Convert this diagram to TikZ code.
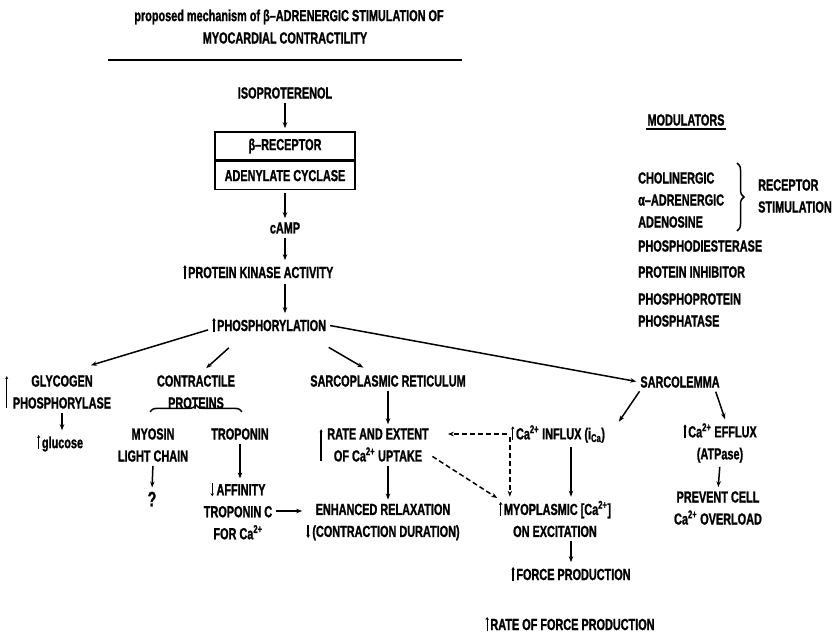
\documentclass[tikz,border=0pt]{standalone}
\usepackage{fontspec}
\setmainfont{Liberation Sans}[FakeStretch=0.68, FakeBold=1.2]
\usetikzlibrary{arrows.meta,decorations.pathreplacing}
\newcommand{\ua}{\tikz[baseline=0pt,x=1pt,y=1pt]\draw[line width=1.3pt,-{Stealth[length=3pt,width=3.5pt]}] (0,-1) -- (0,13);\hspace{1.5pt}}
\newcommand{\da}{\tikz[baseline=0pt,x=1pt,y=1pt]\draw[line width=1.3pt,-{Stealth[length=3pt,width=3.5pt]}] (0,12) -- (0,-1);\hspace{2.5pt}}
\begin{document}
\begin{tikzpicture}[x=1pt,y=-1pt,
  every node/.style={font=\fontsize{16}{22}\selectfont\bfseries, inner sep=1pt, align=center},
  arr/.style={-{Stealth[length=6pt,width=4.5pt]}, line width=1.5pt, shorten <=3pt, shorten >=3pt},
  dsh/.style={arr, dash pattern=on 5pt off 3pt},
  bar/.style={-{Stealth[length=3pt,width=3pt]}, line width=1.3pt},
  boxpart/.style={draw, line width=1.6pt, minimum width=140pt, minimum height=28pt},
  brc/.style={decorate, decoration={brace, amplitude=7pt}, line width=1.5pt},
  lft/.style={anchor=west, align=left}]
\useasboundingbox (0,0) rectangle (838,635);

% title
\node (title1) at (289,17) {proposed mechanism of β–ADRENERGIC STIMULATION OF};
\node (title2) at (285,38) {MYOCARDIAL CONTRACTILITY};
\draw[line width=1.6pt] (108,60) -- (462,60);

% main chain
\node (iso) at (285,93) {ISOPROTERENOL};
\node[boxpart] (rec) at (285,146) {β–RECEPTOR};
\node[boxpart, anchor=north] (ade) at (rec.south) {ADENYLATE CYCLASE};
\node (camp) at (285,228) {cAMP};
\node[anchor=west] (pka) at (182,272) {\ua PROTEIN KINASE ACTIVITY};
\node[anchor=west] (phos) at (211,325) {\ua PHOSPHORYLATION};

% left branches
\node (glyc) at (62,392) {GLYCOGEN\\PHOSPHORYLASE};
\node (gluc) at (60,443) {\ua glucose};
\node (contr) at (196,392) {CONTRACTILE\\PROTEINS};
\node (myo) at (153,445) {MYOSIN\\LIGHT CHAIN};
\node[font=\fontsize{21}{22}\selectfont\bfseries] (q) at (152,499) {?};
\node (trop) at (240,434) {TROPONIN};
\node (aff) at (238,511) {\da AFFINITY\\TROPONIN C\\FOR Ca\textsuperscript{2+}};

% sarcoplasmic reticulum
\node (sr) at (388,381) {SARCOPLASMIC RETICULUM};
\node (rate) at (378,445) {RATE AND EXTENT\\OF Ca\textsuperscript{2+} UPTAKE};
\node (enh) at (383,522) {ENHANCED RELAXATION\\\da(CONTRACTION DURATION)};

% sarcolemma
\node (sl) at (680,382) {SARCOLEMMA};
\node (influx) at (558,434) {\ua Ca\textsuperscript{2+} INFLUX (i\textsubscript{Ca})};
\node (myop) at (555,519) {\ua MYOPLASMIC [Ca\textsuperscript{2+}]\\ON EXCITATION};
\node (force) at (571,574) {\ua FORCE PRODUCTION};
\node (rateforce) at (570,624) {\ua RATE OF FORCE PRODUCTION};
\node (efflux) at (720,443) {\ua Ca\textsuperscript{2+} EFFLUX\\(ATPase)};
\node (prev) at (718,508) {PREVENT CELL\\Ca\textsuperscript{2+} OVERLOAD};

% modulators
\node (mod) at (686,120) {MODULATORS};
\draw[line width=1.5pt] ([yshift=-2pt]mod.south west) -- ([yshift=-2pt]mod.south east);
\node[lft] (chol) at (637,178) {CHOLINERGIC};
\node[lft] (alpha) at (637,200) {α–ADRENERGIC};
\node[lft] (aden) at (637,222) {ADENOSINE};
\node[lft] (recs) at (757,196) {RECEPTOR\\STIMULATION};
\node[lft] (pde) at (637,246) {PHOSPHODIESTERASE};
\node[lft] (pinh) at (637,272) {PROTEIN INHIBITOR};
\node[lft] (ppp) at (637,310) {PHOSPHOPROTEIN\\PHOSPHATASE};
\draw[brc] (737,163) -- (737,231);

% connectors main
\draw[arr] (iso) -- (rec);
\draw[arr] (ade) -- (camp);
\draw[arr] (camp.south) -- (camp.south |- pka.north);
\draw[arr] (pka.south -| camp) -- (phos.north -| camp);
\draw[arr] ([yshift=-4pt]phos.west) -- ([xshift=26pt,yshift=8pt]glyc.north);
\draw[arr] ([xshift=-38pt,yshift=-12pt]phos.south) -- ([xshift=8pt,yshift=4pt]contr.north);
\draw[arr] ([xshift=57pt,yshift=-12pt]phos.south) -- ([xshift=-22pt,yshift=5pt]sr.north);
\draw[arr] (phos.east) -- (sl.west);

% left
\draw[bar] ([xshift=-5pt,yshift=2pt]glyc.south west) -- ([xshift=-5pt,yshift=-2pt]glyc.north west);
\draw[arr] (glyc.south) -- (glyc.south |- gluc.north);
\draw[brc] ([xshift=-46pt,yshift=-2pt]contr.south) -- ([xshift=46pt,yshift=-2pt]contr.south);
\draw[arr] (myo.south) -- (q.north);
\draw[arr] (trop.south) -- (aff.north -| trop.south);
\draw[arr] (aff.east) -- (aff.east -| enh.west);

% SR
\draw[arr] (sr.south) -- (sr.south |- rate.north);
\draw[bar] ([xshift=-5pt,yshift=2pt]rate.south west) -- ([xshift=-5pt,yshift=-2pt]rate.north west);
\draw[arr] (rate.south -| sr.south) -- (enh.north -| sr.south);

% influx / myoplasmic
\draw[dsh, shorten >=18pt] (influx.west) -- (influx.west -| rate.east);
\draw[dsh] (influx.west) -- (influx.west |- myop.north);
\draw[dsh] ([yshift=8pt]rate.south east) -- ([xshift=2pt]myop.north west);
\draw[arr] (influx.south -| force.north) -- (myop.north -| force.north);
\draw[arr] (myop.south -| force.north) -- (force.north);

% sarcolemma
\draw[arr] ([xshift=2pt]sl.south west) -- ([xshift=-22pt]sl.south west |- influx.north);
\draw[arr] ([xshift=-6pt]sl.south east) -- ([xshift=6pt]efflux.north);
\draw[arr] (efflux.south) -- (prev.north);
\end{tikzpicture}
\end{document}
